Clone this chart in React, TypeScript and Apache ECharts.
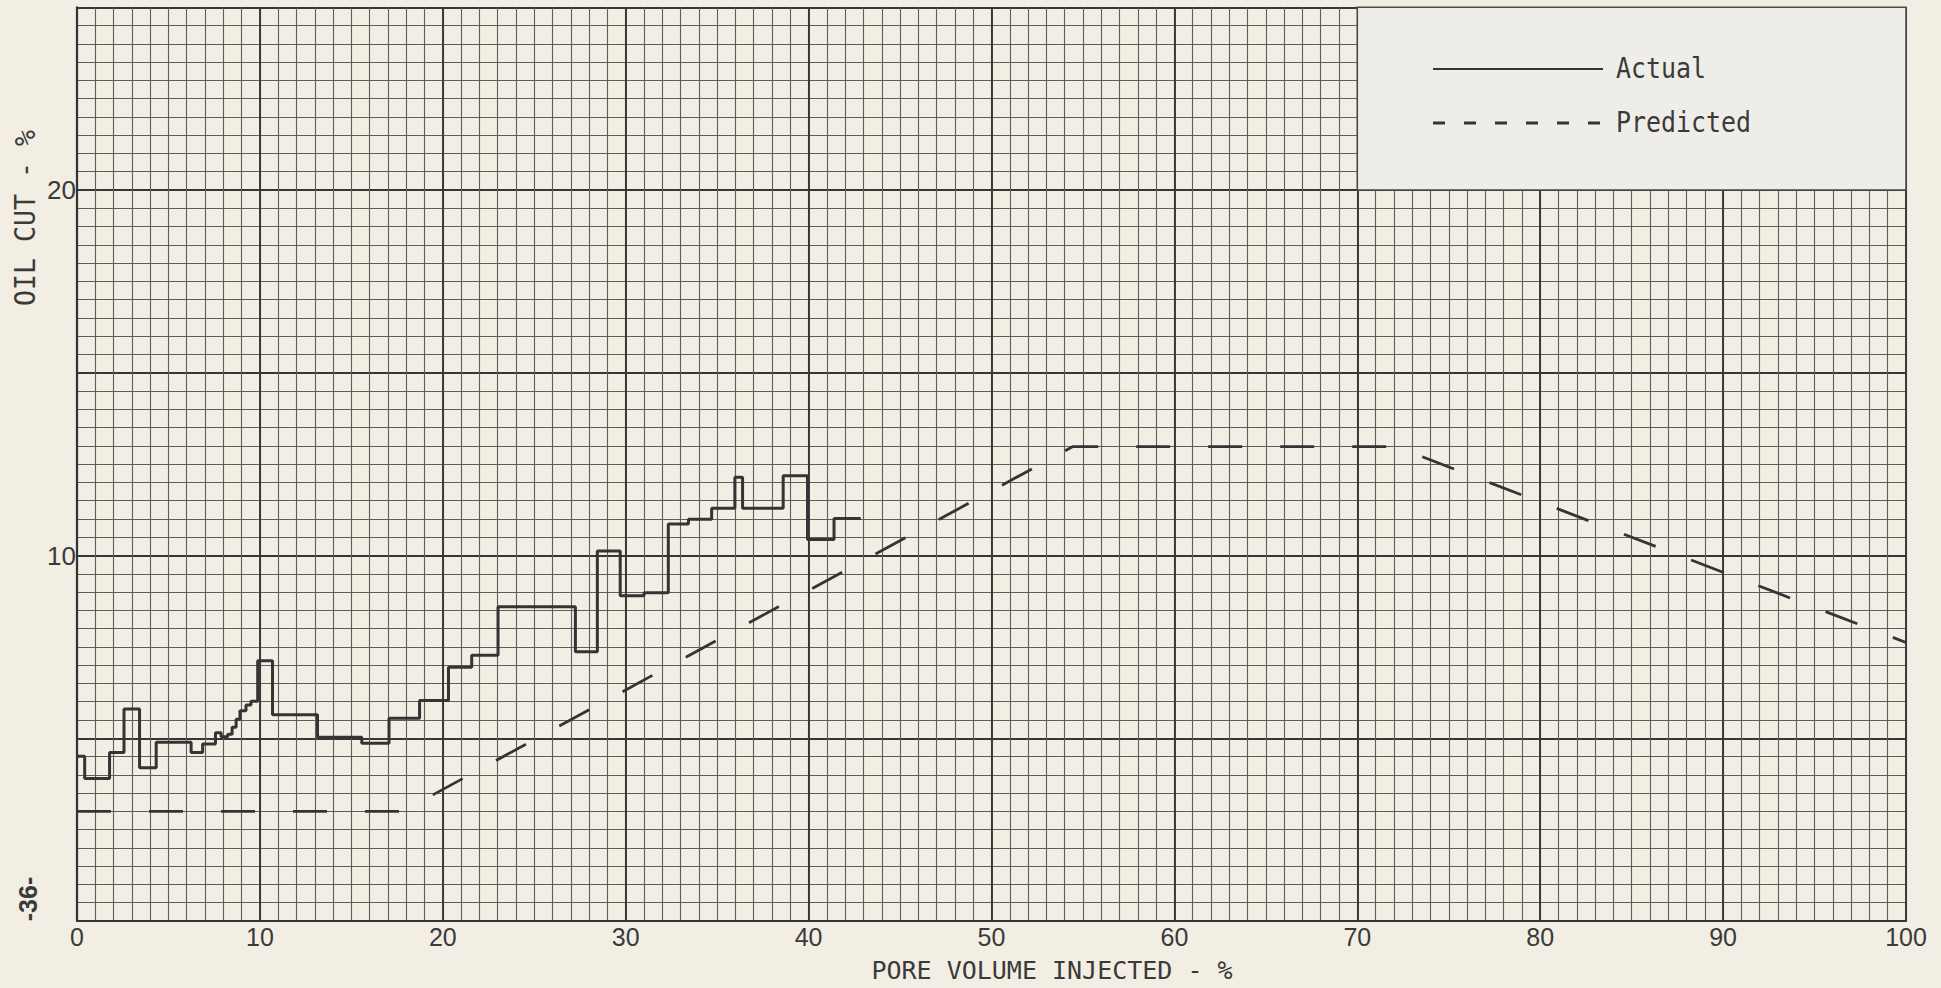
import React, { useEffect, useRef } from "react";
import * as echarts from "echarts";

// Actual oil cut: step levels (x where level begins, level in %)
const actualX = [
  0, 0.42, 1.78, 2.57, 3.42, 4.33, 6.24, 6.87, 7.57, 7.88, 8.24, 8.48, 8.7, 8.91, 9.24, 9.51, 9.88,
  10.69, 13.15, 15.57, 17.06, 18.73, 20.31, 21.58, 23.02, 27.25, 28.45, 29.7, 31.0, 32.33, 33.43,
  34.7, 35.97, 36.39, 38.61, 39.94, 41.39, 42.85,
];
const actualY = [
  4.51, 3.9, 4.61, 5.8, 4.19, 4.89, 4.61, 4.84, 5.15, 5.04, 5.11, 5.3, 5.52, 5.75, 5.91, 6.01, 7.12,
  5.64, 5.03, 4.86, 5.55, 6.03, 6.94, 7.27, 8.6, 7.37, 10.12, 8.9, 8.98, 10.86, 10.99,
  11.29, 12.14, 11.29, 12.18, 10.44, 11.01, 11.01,
];

// Predicted oil cut
const predictedX = [0, 17.8, 54.45, 72.1, 100];
const predictedY = [3.0, 3.0, 12.98, 12.98, 7.62];

// Axis labels
const xLabelStep = 10;
const yLabelValues = [10, 20];
const xTitle = "PORE VOLUME INJECTED - %";
const yTitle = "OIL CUT - %";
const pageNumber = "-36-";
const legendNames = ["Actual", "Predicted"];

const MONO = "'DejaVu Sans Mono', 'Liberation Mono', monospace";
const SANS = "'Liberation Sans', Arial, sans-serif";
const INK = "#343434";
const MINOR = { color: "#5e5e5e", width: 1.1 };
const MAJOR = { color: "#363636", width: 1.9 };

export default function App() {
  const ref = useRef<HTMLDivElement>(null);

  useEffect(() => {
    const chart = echarts.init(ref.current!, null, { renderer: "svg" });
    chart.setOption({
      animation: false,
      backgroundColor: "#f2eee4",
      grid: { left: 77, right: 35, top: 7.25, bottom: 67, containLabel: false },
      xAxis: [
        {
          type: "value",
          min: 0,
          max: 100,
          interval: 1,
          axisLine: { show: true, onZero: false, lineStyle: { color: "#333", width: 2.2 } },
          axisTick: { show: false },
          axisLabel: {
            fontSize: 25,
            fontFamily: SANS,
            color: "#3a3a3a",
            margin: 3,
            formatter: (v: number) => (v % xLabelStep === 0 ? String(v) : ""),
          },
          splitLine: { show: true, lineStyle: MINOR },
        },
        {
          type: "value",
          min: 0,
          max: 100,
          interval: 10,
          position: "bottom",
          axisLine: { show: false },
          axisTick: { show: false },
          axisLabel: { show: false },
          splitLine: { show: true, lineStyle: MAJOR },
        },
      ],
      yAxis: [
        {
          type: "value",
          min: 0,
          max: 25,
          interval: 0.5,
          axisLine: { show: true, onZero: false, lineStyle: { color: "#333", width: 2.2 } },
          axisTick: { show: false },
          axisLabel: {
            fontSize: 26,
            fontFamily: SANS,
            color: "#3a3a3a",
            margin: 1,
            formatter: (v: number) => (yLabelValues.includes(v) ? String(v) : ""),
          },
          splitLine: { show: true, lineStyle: MINOR },
        },
        {
          type: "value",
          min: 0,
          max: 25,
          interval: 5,
          position: "left",
          axisLine: { show: false },
          axisTick: { show: false },
          axisLabel: { show: false },
          splitLine: { show: true, lineStyle: MAJOR },
        },
      ],
      series: [
        {
          name: legendNames[0],
          type: "line",
          step: "end",
          symbol: "none",
          xAxisIndex: 0,
          yAxisIndex: 0,
          data: actualX.map((x, i) => [x, actualY[i]]),
          lineStyle: { color: INK, width: 3 },
          z: 4,
        },
        {
          name: legendNames[1],
          type: "line",
          symbol: "none",
          xAxisIndex: 0,
          yAxisIndex: 0,
          data: predictedX.map((x, i) => [x, predictedY[i]]),
          lineStyle: { color: INK, width: 2.8, type: [34, 38] },
          z: 3,
          markArea: {
            silent: true,
            itemStyle: { color: "#efede7", borderColor: "#4a4a4a", borderWidth: 1.6 },
            data: [[{ coord: [70, 20] }, { coord: [100, 25] }]],
          },
        },
      ],
      graphic: [
        {
          type: "line",
          shape: { x1: 1433, y1: 69, x2: 1603, y2: 69 },
          style: { stroke: INK, lineWidth: 2 },
          z: 10,
        },
        {
          type: "line",
          shape: { x1: 1433, y1: 123, x2: 1603, y2: 123 },
          style: { stroke: INK, lineWidth: 3, lineDash: [12, 19] },
          z: 10,
        },
        {
          type: "text",
          x: 1616,
          y: 68,
          scaleX: 0.89,
          z: 10,
          style: {
            text: legendNames[0],
            font: `28px ${MONO}`,
            fill: "#3a3a3a",
            verticalAlign: "middle",
            align: "left",
          },
        },
        {
          type: "text",
          x: 1616,
          y: 122,
          scaleX: 0.89,
          z: 10,
          style: {
            text: legendNames[1],
            font: `28px ${MONO}`,
            fill: "#3a3a3a",
            verticalAlign: "middle",
            align: "left",
          },
        },
        {
          type: "text",
          x: 1052,
          y: 970,
          style: {
            text: xTitle,
            font: `25px ${MONO}`,
            fill: "#3a3a3a",
            verticalAlign: "middle",
            align: "center",
          },
        },
        {
          type: "text",
          x: 25,
          y: 218,
          rotation: Math.PI / 2,
          scaleX: 0.95,
          style: {
            text: yTitle,
            font: `28px ${MONO}`,
            fill: "#3a3a3a",
            verticalAlign: "middle",
            align: "center",
          },
        },
        {
          type: "text",
          x: 28,
          y: 899,
          rotation: Math.PI / 2,
          style: {
            text: pageNumber,
            font: `bold 25px ${SANS}`,
            fill: "#3a3a3a",
            verticalAlign: "middle",
            align: "center",
          },
        },
      ],
    });
    return () => chart.dispose();
  }, []);

  return (
    <div
      ref={ref}
      style={{ position: "fixed", left: 0, top: 0, width: 1941, height: 988 }}
    />
  );
}
